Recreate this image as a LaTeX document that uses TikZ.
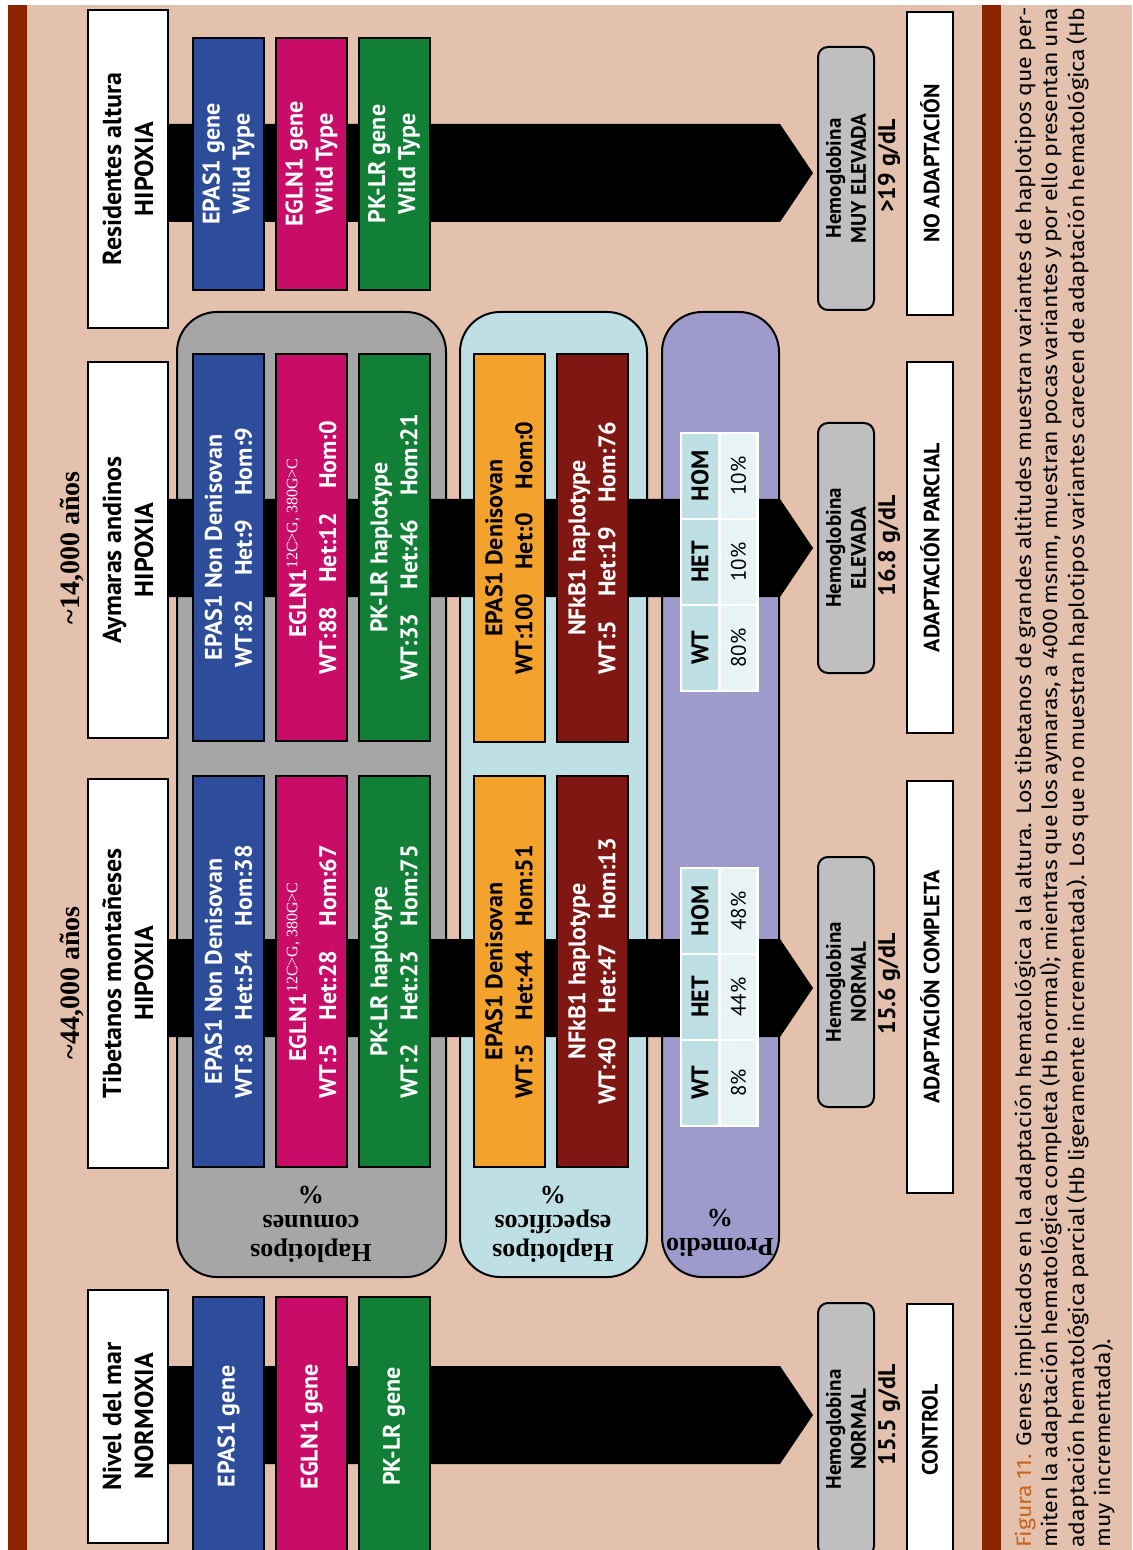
\documentclass[tikz,border=0pt]{standalone}
\usepackage{fontspec}
\setmainfont{PT Sans}
\newfontfamily\serifa{Liberation Serif}
\newfontfamily\leyendafont[FakeStretch=1.1]{Fira Sans}
\usepackage{tikz}
\usetikzlibrary{calc}
\definecolor{fondo}{HTML}{E3C1AD}
\definecolor{granate}{HTML}{8B2300}
\definecolor{azulgen}{HTML}{2D4C9A}
\definecolor{fucsia}{HTML}{C90C68}
\definecolor{verdegen}{HTML}{117F36}
\definecolor{naranja}{HTML}{F3A22C}
\definecolor{rojooscuro}{HTML}{801713}
\definecolor{grispanel}{HTML}{A6A6A6}
\definecolor{celeste}{HTML}{BEE0E4}
\definecolor{lila}{HTML}{9E9ACC}
\definecolor{grishb}{HTML}{BFBFBF}
\definecolor{celdaclara}{HTML}{E8F3F3}
\definecolor{naranjaleyenda}{HTML}{C8641E}
\tikzset{
  caja/.style={draw,line width=1pt,rotate=90,align=center,inner sep=2pt},
  cajapob/.style={caja,fill=white,minimum height=40pt,font=\bfseries\fontsize{13}{16}\selectfont},
  cajagen/.style={caja,minimum height=35.5pt,text=white,font=\bfseries\fontsize{12}{15}\selectfont},
  cajaazul/.style={cajagen,fill=azulgen},
  cajafucsia/.style={cajagen,fill=fucsia},
  cajaverde/.style={cajagen,fill=verdegen},
  cajanaranja/.style={cajagen,fill=naranja,text=black},
  cajaroja/.style={cajagen,fill=rojooscuro},
  cajahb/.style={caja,fill=grishb,rounded corners=5pt,minimum height=28pt,font=\bfseries\fontsize{10.5}{12.5}\selectfont},
  cajares/.style={caja,fill=white,minimum height=23pt,font=\bfseries\fontsize{11}{13}\selectfont},
  valorhb/.style={rotate=90,inner sep=0pt,font=\bfseries\fontsize{12}{14}\selectfont},
  periodo/.style={rotate=90,font=\serifa\bfseries\fontsize{14}{16}\selectfont},
  panel/.style={draw,line width=1pt,rounded corners=20pt},
  rotulo/.style={rotate=180,align=center,font=\serifa\bfseries\fontsize{13}{14.5}\selectfont},
  franja/.style={fill=black},
  celda/.style={rotate=90,draw=white,line width=1.2pt,minimum width=43pt,minimum height=19pt,inner sep=0pt},
  celdacab/.style={celda,fill=celeste,font=\bfseries\fontsize{12}{14}\selectfont},
  celdaval/.style={celda,fill=celdaclara,font=\fontsize{10.5}{12}\selectfont},
}
\newcommand{\mutacion}{\textsuperscript{\serifa\mdseries 12C>G, 380G>C}}
\newcommand{\flechanegra}[2]{%
  \fill[franja] ($(#1.south |- #2)+(0,-49)$) -- ($(#2)+(-33,-49)$) -- (#2)
    -- ($(#2)+(-33,49)$) -- ($(#1.south |- #2)+(0,49)$) -- cycle;}

\begin{document}
\begin{tikzpicture}[x=0.5pt,y=-0.5pt,font=\fontsize{11}{13}\selectfont]
  \useasboundingbox (0,0) rectangle (1132,1550);
  % fondo y barras
  \fill[fondo] (27,5) rectangle (1132,1550);
  \fill[granate] (8,5) rectangle (27,1550);
  \fill[granate] (982,5) rectangle (1001,1550);

  \node[periodo] (per44) at (72,983) {\textasciitilde 44,000 años};
  \node[periodo] (per14) at (72,548) {\textasciitilde 14,000 años};

  % paneles
  \draw[panel,fill=grispanel] (177,312) rectangle (446,1277);
  \draw[panel,fill=celeste] (460,312) rectangle (647,1277);
  \draw[panel,fill=lila] (662,312) rectangle (779,1277);
  \node[rotulo] (rotComunes) at (311,1224) {Haplotipos\\comunes\\\%};
  \node[rotulo] (rotEspecificos) at (553,1224) {Haplotipos\\específicos\\\%};
  \node[rotulo] (rotPromedio) at (720,1233) {Promedio\\\%};

  % poblaciones
  \node[cajapob,minimum width=159pt] (popR) at (128,169) {Residentes altura\\HIPOXIA};
  \node[cajapob,minimum width=188pt] (popA) at (128,550) {Aymaras andinos\\HIPOXIA};
  \node[cajapob,minimum width=194.5pt] (popT) at (128,973.5) {Tibetanos montañeses\\HIPOXIA};
  \node[cajapob,minimum width=126.5pt] (popN) at (128,1416.5) {Nivel del mar\\NORMOXIA};

  % hemoglobina
  \node[cajahb,minimum width=131.5pt] (hbR) at (846,178.5) {Hemoglobina\\MUY ELEVADA};
  \node[cajahb,minimum width=125pt] (hbA) at (846,548) {Hemoglobina\\ELEVADA};
  \node[cajahb,minimum width=125pt] (hbT) at (846,982) {Hemoglobina\\NORMAL};
  \node[cajahb,minimum width=126.5pt] (hbN) at (846,1429.5) {Hemoglobina\\NORMAL};
  \node[valorhb] (valR) at (889,166) {>19 g/dL};
  \node[valorhb] (valA) at (889,546) {16.8 g/dL};
  \node[valorhb] (valT) at (889,984) {15.6 g/dL};
  \node[valorhb] (valN) at (889,1415) {15.5 g/dL};

  % resultado
  \node[cajares,minimum width=151.5pt] (resR) at (930,163.5) {NO ADAPTACIÓN};
  \node[cajares,minimum width=185.5pt] (resA) at (930,547.5) {ADAPTACIÓN PARCIAL};
  \node[cajares,minimum width=206pt] (resT) at (930,987) {ADAPTACIÓN COMPLETA};
  \node[cajares,minimum width=126.5pt] (resN) at (930,1430) {CONTROL};

  % flechas negras
  \coordinate (puntaR) at (813,173);
  \coordinate (puntaA) at (813,548);
  \coordinate (puntaT) at (813,988);
  \coordinate (puntaN) at (813,1415);
  \flechanegra{popR}{puntaR}
  \flechanegra{popA}{puntaA}
  \flechanegra{popT}{puntaT}
  \flechanegra{popN}{puntaN}

  % genes
  \node[cajaazul,minimum width=126pt] (epasR) at (228.5,164) {EPAS1 gene\\Wild Type};
  \node[cajafucsia,minimum width=126pt] (eglnR) at (311.5,164) {EGLN1 gene\\Wild Type};
  \node[cajaverde,minimum width=126pt] (pklrR) at (394,164) {PK-LR gene\\Wild Type};

  \node[cajaazul,minimum width=193.5pt] (epasA) at (228.5,547.5) {EPAS1 Non Denisovan\\WT:82\quad Het:9\quad Hom:9};
  \node[cajafucsia,minimum width=193.5pt] (eglnA) at (311.5,547.5) {EGLN1\mutacion\\WT:88\quad Het:12\quad Hom:0};
  \node[cajaverde,minimum width=193.5pt] (pklrA) at (394,547.5) {PK-LR haplotype\\WT:33\quad Het:46\quad Hom:21};

  \node[cajaazul,minimum width=195.5pt] (epasT) at (228.5,971.5) {EPAS1 Non Denisovan\\WT:8\quad Het:54\quad Hom:38};
  \node[cajafucsia,minimum width=195.5pt] (eglnT) at (311.5,971.5) {EGLN1\mutacion\\WT:5\quad Het:28\quad Hom:67};
  \node[cajaverde,minimum width=195.5pt] (pklrT) at (394,971.5) {PK-LR haplotype\\WT:2\quad Het:23\quad Hom:75};

  \node[cajaazul,minimum width=129.5pt] (epasN) at (228.5,1426.5) {EPAS1 gene};
  \node[cajafucsia,minimum width=129.5pt] (eglnN) at (311.5,1426.5) {EGLN1 gene};
  \node[cajaverde,minimum width=129.5pt] (pklrN) at (394,1426.5) {PK-LR gene};

  % haplotipos especificos
  \node[cajanaranja,minimum width=194pt] (denA) at (509,548) {EPAS1 Denisovan\\WT:100\quad Het:0\quad Hom:0};
  \node[cajaroja,minimum width=194pt] (nfkA) at (592,548) {NFkB1 haplotype\\WT:5\quad Het:19\quad Hom:76};
  \node[cajanaranja,minimum width=195.5pt] (denT) at (509,971.5) {EPAS1 Denisovan\\WT:5\quad Het:44\quad Hom:51};
  \node[cajaroja,minimum width=195.5pt] (nfkT) at (592,971.5) {NFkB1 haplotype\\WT:40\quad Het:47\quad Hom:13};

  % promedios
  \foreach \cab/\val [count=\i from 0] in {HOM/10\%,HET/10\%,WT/80\%}{
    \node[celdacab] (cabA\i) at (700,476+86*\i) {\cab};
    \node[celdaval] (valA\i) at (738.5,476+86*\i) {\val};
  }
  \foreach \cab/\val [count=\i from 0] in {HOM/48\%,HET/44\%,WT/8\%}{
    \node[celdacab] (cabT\i) at (700,911+86*\i) {\cab};
    \node[celdaval] (valT\i) at (738.5,911+86*\i) {\val};
  }

  % pie de figura
  \node[rotate=90,anchor=north west,inner sep=0pt,align=left,
        font=\leyendafont\fontsize{10.5}{13.25}\selectfont] (leyenda) at (1014,1548) {%
    \makebox[770pt][s]{\textcolor{naranjaleyenda}{Figura 11.} Genes implicados en la adaptación hematológica a la altura. Los tibetanos de grandes altitudes muestran variantes de haplotipos que per-}\\
    \makebox[770pt][s]{miten la adaptación hematológica completa (Hb normal); mientras que los aymaras, a 4000 msnm, muestran pocas variantes y por ello presentan una}\\
    \makebox[770pt][s]{adaptación hematológica parcial (Hb ligeramente incrementada). Los que no muestran haplotipos variantes carecen de adaptación hematológica (Hb}\\
    muy incrementada).};
\end{tikzpicture}
\end{document}
